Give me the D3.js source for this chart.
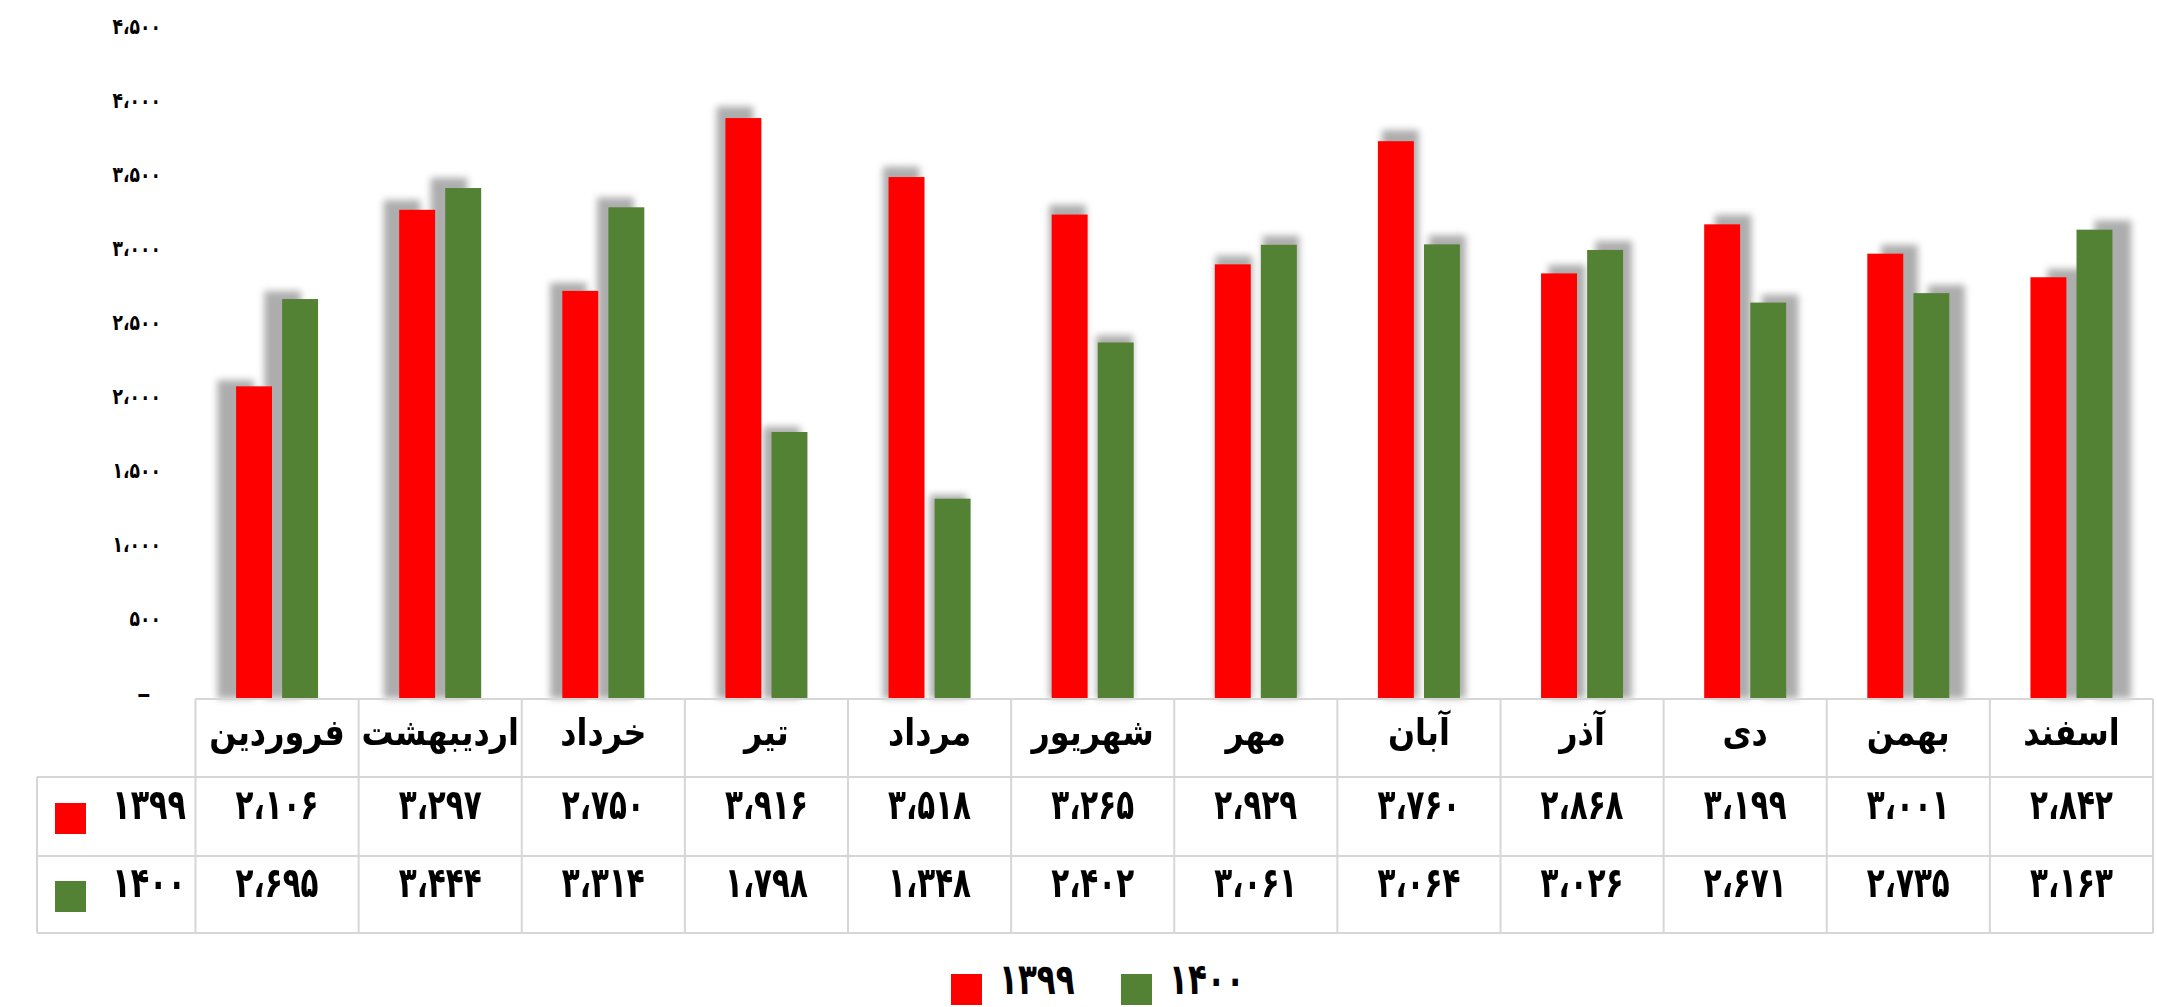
<!DOCTYPE html>
<html><head><meta charset="utf-8">
<script src="https://cdn.jsdelivr.net/npm/d3@7"></script>
<style>
html,body{margin:0;padding:0;background:#fff;}
svg{display:block;}
text{font-family:"DejaVu Sans",sans-serif;font-weight:bold;fill:#000;}
</style></head>
<body>
<svg id="chart" width="2157" height="1007"></svg>
<script>
// ---- data ----
const months = ["فروردین","اردیبهشت","خرداد","تیر","مرداد","شهریور","مهر","آبان","آذر","دی","بهمن","اسفند"];
const seriesNames = ["1399","1400"];
const values1399 = [2106,3297,2750,3916,3518,3265,2929,3760,2868,3199,3001,2842];
const values1400 = [2695,3444,3314,1798,1348,2402,3061,3064,3026,2671,2735,3163];
const tickValues = [0,500,1000,1500,2000,2500,3000,3500,4000,4500];
const colors = ["#FF0000","#548235"];

const faDigits = s => String(s).replace(/[0-9]/g, d => "۰۱۲۳۴۵۶۷۸۹"[+d]);
const fa = n => faDigits(d3.format(",")(n).replace(/,/g,"\u060C"));

const svg = d3.select("#chart");
const tableLeft = 37, tableRight = 2153, colStart = 195.5;
const yTop = 699, yRow1 = 777, yRow2 = 856, yBot = 933;

const x0 = d3.scaleBand().domain(months).range([colStart, tableRight]).padding(0);
const x1 = d3.scaleBand().domain(seriesNames)
  .range([x0.bandwidth()/2 - 41, x0.bandwidth()/2 + 41]).paddingInner(0.22);
const y = d3.scaleLinear().domain([0,4500]).range([698.5, 31.5]);

const data = months.map((m,i)=>({m, vals:[values1399[i], values1400[i]]}));
const bars = [];
data.forEach(d => d.vals.forEach((v,j)=>bars.push({m:d.m, s:seriesNames[j], v, c:colors[j]})));

// helper: text placed with horizontal condensing
function stext(g, x, yy, str, size, sx, anchor, extra){
  const t = g.append("text")
    .attr("transform", `translate(${x},${yy}) scale(${sx},1)`)
    .attr("font-size", size).attr("text-anchor", anchor || "start")
    .text(str);
  if (extra) extra(t);
  return t;
}

// shadow filter
const defs = svg.append("defs");
defs.append("filter").attr("id","blur").attr("x","-50%").attr("y","-10%").attr("width","200%").attr("height","120%")
  .append("feGaussianBlur").attr("stdDeviation",3.6);

const cx = (colStart + tableRight)/2, y0 = y(0), sc = 1.02;
const gShadow = svg.append("g").attr("filter","url(#blur)");
gShadow.selectAll("rect").data(bars).join("rect")
  .attr("x", d => cx + (x0(d.m) + x1(d.s) - cx)*sc)
  .attr("y", d => y0 + (y(d.v) - y0)*sc)
  .attr("width", x1.bandwidth()*sc)
  .attr("height", d => (y0 - y(d.v))*sc)
  .attr("fill","#000").attr("opacity",0.32);

svg.append("g").selectAll("rect").data(bars).join("rect")
  .attr("x", d => x0(d.m) + x1(d.s))
  .attr("y", d => y(d.v))
  .attr("width", x1.bandwidth())
  .attr("height", d => y0 - y(d.v))
  .attr("fill", d => d.c);

// y axis labels
const yAxis = svg.append("g");
tickValues.forEach(v => {
  if (v === 0) stext(yAxis, 151, y(v) + 3, "-", 22, 1.6, "end");
  else stext(yAxis, 161, y(v) + 2, fa(v), 22, 0.78, "end");
});

// table grid
const grid = svg.append("g").attr("stroke","#d6d6d6").attr("stroke-width",2).attr("fill","none");
grid.append("line").attr("x1",colStart).attr("x2",tableRight).attr("y1",yTop).attr("y2",yTop);
[yRow1,yRow2,yBot].forEach(yy=>grid.append("line").attr("x1",tableLeft).attr("x2",tableRight).attr("y1",yy).attr("y2",yy));
grid.append("line").attr("x1",tableLeft).attr("x2",tableLeft).attr("y1",yRow1).attr("y2",yBot);
months.forEach(m=>grid.append("line").attr("x1",x0(m)).attr("x2",x0(m)).attr("y1",yTop).attr("y2",yBot));
grid.append("line").attr("x1",tableRight).attr("x2",tableRight).attr("y1",yTop).attr("y2",yBot);

// header: month names
const gHead = svg.append("g");
months.forEach(m => stext(gHead, x0(m) + x0.bandwidth()/2, 745, m, 37, 0.86, "middle", t => t.attr("direction","rtl")));

// value rows with legend keys
const rowBase = [819, 897];
[values1399, values1400].forEach((vals,j)=>{
  const g = svg.append("g");
  vals.forEach((v,i) => stext(g, x0(months[i]) + x0.bandwidth()/2, rowBase[j], fa(v), 42, 0.7, "middle"));
  g.append("rect").attr("x",55).attr("y",rowBase[j]-16).attr("width",31).attr("height",31).attr("fill",colors[j]);
  stext(g, 186, rowBase[j], faDigits(seriesNames[j]), 42, 0.72, "end");
});

// legend
const legend = svg.append("g");
const legX = [951, 1121];
seriesNames.forEach((s,j)=>{
  legend.append("rect").attr("x",legX[j]).attr("y",974).attr("width",31).attr("height",31).attr("fill",colors[j]);
  stext(legend, legX[j]+48, 994, faDigits(s), 43, 0.72, "start");
});
</script>
</body></html>
